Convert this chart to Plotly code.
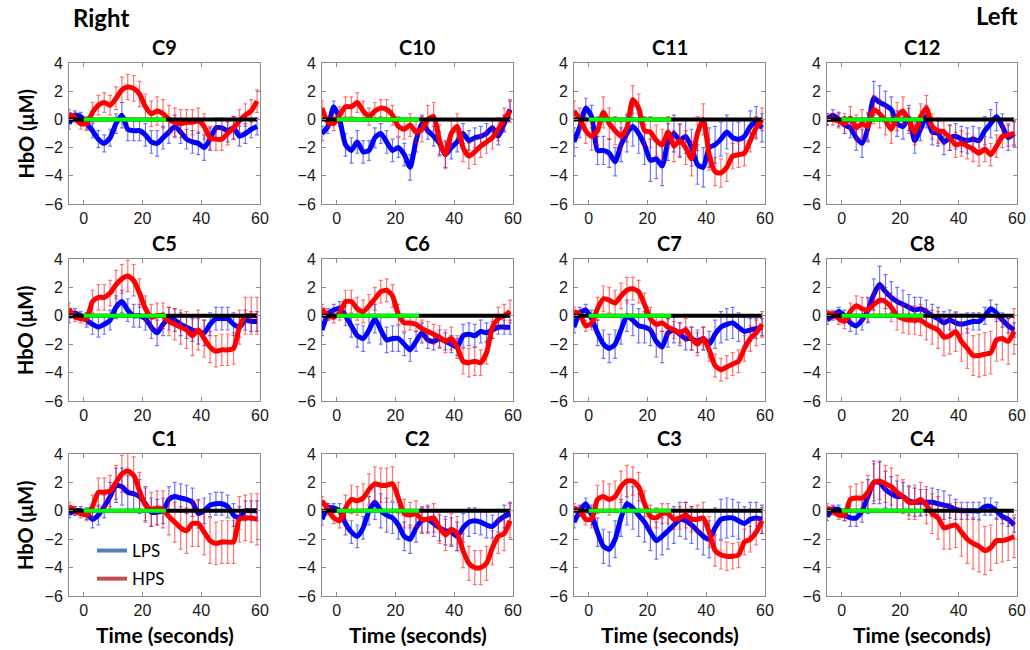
import plotly.graph_objects as go

# ---------------- data ----------------
TIME = [-5, -3, -1, 1, 3, 5, 7, 9, 11, 13, 15, 17, 19, 21, 23, 25, 27, 29, 31, 33,
        35, 37, 39, 41, 43, 45, 47, 49, 51, 53, 55, 57, 59]
STIM_START, STIM_END = 0, 28
BASE_START, BASE_END = -5, 59

CHANNELS = ["C9", "C10", "C11", "C12", "C5", "C6", "C7", "C8", "C1", "C2", "C3", "C4"]

LPS_C9 = [-0.3, 0.3, 0.2, -0.3, -0.8, -1.4, -1.7, -1.3, -0.3, 0.3, -0.7, -0.8, -0.8, -1.1, -1.6, -1.7, -1.3, -0.9, -0.5, -0.9, -1.4, -1.6, -1.7, -2.0, -1.4, -0.6, -0.6, -0.8, -0.6, -1.2, -1.0, -0.7, -0.5]
LPS_C9_ERR = [0.4, 0.3, 0.3, 0.4, 0.5, 0.6, 0.6, 0.6, 0.7, 0.9, 0.8, 0.7, 0.7, 0.8, 0.8, 0.9, 0.8, 0.8, 0.8, 0.8, 0.7, 0.8, 0.8, 0.9, 0.8, 0.7, 0.7, 0.8, 0.8, 0.7, 0.7, 0.6, 0.6]
HPS_C9 = [0.4, 0.1, -0.3, -0.3, 0.5, 1.0, 1.2, 1.0, 1.5, 2.1, 2.3, 2.2, 1.8, 0.9, 0.4, 0.6, 0.4, 0.0, -0.2, -0.3, -0.2, -0.2, -0.1, -0.5, -1.3, -1.4, -1.4, -1.0, -0.6, -0.1, 0.3, 0.6, 1.3]
HPS_C9_ERR = [0.3, 0.3, 0.4, 0.5, 0.7, 0.7, 0.7, 0.7, 0.8, 0.9, 0.9, 0.9, 0.9, 0.9, 0.9, 1.0, 1.0, 1.0, 1.0, 1.0, 0.9, 0.9, 0.9, 0.9, 0.8, 0.8, 0.8, 0.8, 0.8, 0.8, 0.8, 0.8, 0.8]

LPS_C10 = [-1.0, -0.5, 0.9, 0.0, -1.8, -2.2, -1.6, -2.3, -2.2, -1.3, -1.0, -1.6, -2.2, -2.0, -2.5, -3.4, -1.5, -0.3, -0.8, -1.2, -1.7, -2.5, -2.0, -1.6, -1.0, -1.5, -1.3, -1.2, -1.0, -0.6, -1.2, -0.3, 0.7]
LPS_C10_ERR = [0.5, 0.5, 0.4, 0.5, 0.8, 0.9, 0.8, 0.8, 0.7, 0.7, 0.7, 0.8, 0.8, 0.7, 0.8, 0.9, 0.8, 0.6, 0.6, 0.7, 0.8, 0.9, 0.8, 0.7, 0.7, 0.7, 0.7, 0.7, 0.7, 0.6, 0.6, 0.6, 0.6]
HPS_C10 = [0.8, -0.2, -0.3, 0.3, 0.9, 0.9, 1.2, 0.6, 0.2, 0.6, 0.8, 0.7, 0.3, -0.5, -0.7, -0.4, -0.9, -0.7, 0.0, 0.2, -1.5, -2.5, -1.0, -0.5, -2.0, -2.6, -2.3, -1.9, -1.6, -1.3, -0.7, 0.0, 0.6]
HPS_C10_ERR = [0.5, 0.4, 0.5, 0.6, 0.7, 0.7, 0.7, 0.7, 0.6, 0.6, 0.6, 0.7, 0.7, 0.7, 0.7, 0.8, 0.8, 0.9, 1.0, 1.0, 1.1, 1.0, 0.9, 0.9, 1.0, 0.9, 0.9, 0.8, 0.8, 0.8, 0.8, 0.8, 0.8]

LPS_C11 = [-1.6, -0.5, 0.8, 0.2, -2.2, -2.2, -2.4, -3.0, -1.8, -1.0, -0.5, -1.0, -1.8, -2.9, -2.8, -3.3, -1.6, -1.0, -1.5, -1.2, -2.0, -3.2, -3.4, -2.0, -1.8, -1.4, -0.9, -1.3, -1.4, -1.2, -0.5, -0.2, -0.6]
LPS_C11_ERR = [1.0, 0.8, 0.7, 0.8, 1.0, 1.0, 1.0, 1.0, 1.2, 1.3, 1.4, 1.4, 1.4, 1.5, 1.4, 1.4, 1.3, 1.3, 1.2, 1.2, 1.3, 1.4, 1.4, 1.4, 1.3, 1.2, 1.2, 1.2, 1.2, 1.2, 1.1, 1.1, 1.0]
HPS_C11 = [0.6, 0.0, -0.8, -1.2, -0.8, 0.5, -0.3, -0.8, -1.2, -0.6, 1.4, 0.8, -0.8, -0.9, -1.5, -1.8, -0.9, -1.9, -1.5, -2.0, -2.8, -1.0, 0.0, -2.5, -3.7, -3.8, -3.4, -2.6, -2.5, -2.4, -1.5, -0.6, 0.0]
HPS_C11_ERR = [0.7, 0.8, 0.9, 1.0, 1.0, 1.1, 1.1, 1.0, 1.0, 1.0, 1.0, 1.0, 1.0, 1.1, 1.1, 1.1, 1.1, 1.1, 1.1, 1.2, 1.2, 1.2, 1.1, 1.1, 1.0, 1.0, 1.0, 0.9, 0.9, 0.9, 0.8, 0.8, 0.8]

LPS_C12 = [0.0, 0.3, 0.0, -0.4, -0.6, -1.3, -1.7, -0.6, 1.5, 1.2, 1.0, 0.7, -0.3, -0.5, 0.1, -1.5, -0.7, 0.2, -0.9, -1.0, -1.6, -1.3, -1.2, -1.4, -1.5, -1.4, -1.5, -0.8, -0.3, 0.2, -0.5, -1.3, -1.0]
LPS_C12_ERR = [0.4, 0.4, 0.5, 0.6, 0.7, 0.9, 1.0, 1.0, 1.2, 1.2, 1.0, 0.9, 0.9, 0.9, 0.9, 0.9, 0.8, 0.8, 0.9, 0.9, 0.9, 0.9, 0.9, 0.9, 0.9, 0.9, 0.9, 1.0, 1.0, 1.0, 0.9, 0.9, 0.9]
HPS_C12 = [0.0, 0.0, -0.1, -0.3, 0.1, -0.6, -0.3, -0.5, 0.7, 0.4, -0.1, -0.7, 0.2, 0.6, -0.1, -0.9, 0.2, 0.8, -0.5, -0.8, -0.9, -1.3, -1.8, -1.7, -1.9, -2.1, -2.4, -2.1, -2.5, -1.9, -1.2, -1.1, -1.0]
HPS_C12_ERR = [0.4, 0.4, 0.5, 0.7, 0.8, 0.9, 1.0, 1.0, 1.0, 1.0, 1.0, 1.0, 1.0, 1.0, 0.9, 0.9, 0.9, 0.9, 0.9, 0.9, 0.9, 0.9, 0.9, 0.9, 0.9, 0.9, 0.9, 0.9, 0.8, 0.8, 0.8, 0.8, 0.8]

LPS_C5 = [-0.1, 0.2, 0.0, -0.3, -0.6, -0.8, -0.6, -0.3, 0.6, 1.0, 0.4, 0.0, 0.0, -0.2, -0.8, -1.2, -0.6, -0.2, -0.3, -0.6, -0.8, -1.0, -1.1, -1.2, -0.6, -0.2, -0.2, -0.2, -0.6, -0.8, -0.3, -0.4, -0.4]
LPS_C5_ERR = [0.4, 0.3, 0.3, 0.5, 0.7, 0.7, 0.7, 0.7, 0.8, 0.8, 0.8, 0.8, 0.8, 0.8, 0.8, 0.9, 0.8, 0.8, 0.8, 0.8, 0.8, 0.8, 0.9, 0.9, 0.8, 0.8, 0.8, 0.8, 0.8, 0.7, 0.7, 0.7, 0.7]
HPS_C5 = [0.5, -0.1, -0.2, -0.2, 1.0, 1.3, 1.3, 1.6, 2.2, 2.6, 2.8, 2.5, 1.6, 0.5, -0.1, 0.0, 0.0, -0.4, -0.6, -0.8, -1.0, -1.4, -1.0, -1.6, -2.2, -2.5, -2.4, -2.4, -2.3, -0.8, 0.0, 0.0, 0.0]
HPS_C5_ERR = [0.4, 0.3, 0.3, 0.4, 0.8, 0.9, 0.9, 0.9, 1.0, 1.0, 1.1, 1.1, 1.0, 0.9, 0.9, 0.9, 0.9, 1.0, 1.1, 1.2, 1.3, 1.4, 1.4, 1.3, 1.1, 1.1, 1.1, 1.1, 1.1, 1.2, 1.3, 1.3, 1.3]

LPS_C6 = [-1.0, 0.1, 0.4, 0.5, 0.0, -0.7, -1.4, -1.6, -1.0, -0.2, -1.0, -1.7, -1.6, -1.6, -2.0, -2.4, -1.8, -1.2, -1.7, -1.8, -1.6, -1.8, -2.0, -2.2, -1.4, -1.3, -1.4, -1.1, -1.2, -1.0, -0.8, -0.8, -0.8]
LPS_C6_ERR = [0.4, 0.4, 0.4, 0.5, 0.7, 0.8, 0.8, 0.9, 0.9, 1.0, 1.0, 0.9, 0.9, 0.9, 0.8, 0.8, 0.7, 0.7, 0.6, 0.6, 0.6, 0.6, 0.6, 0.6, 0.8, 0.8, 0.8, 0.8, 0.7, 0.6, 0.5, 0.5, 0.5]
HPS_C6 = [0.5, 0.0, -0.1, 0.2, 1.0, 1.0, 0.5, 0.3, 0.7, 1.2, 1.7, 1.8, 1.4, 0.1, -0.5, -0.5, -0.6, -0.9, -1.1, -1.3, -1.5, -1.8, -1.6, -2.2, -3.2, -3.3, -3.2, -3.3, -2.6, -0.8, -0.2, 0.0, 0.3]
HPS_C6_ERR = [0.3, 0.3, 0.4, 0.5, 0.8, 0.8, 0.8, 0.8, 0.8, 0.8, 0.8, 0.8, 0.8, 0.7, 0.6, 0.5, 0.5, 0.6, 0.7, 0.7, 0.8, 0.8, 0.8, 0.8, 0.9, 1.0, 1.0, 0.9, 0.8, 0.8, 0.8, 0.8, 0.8]

LPS_C7 = [-0.8, 0.2, 0.4, -0.2, -1.2, -2.0, -2.3, -2.0, -1.0, 0.0, -0.3, -0.7, -0.8, -1.0, -1.8, -2.2, -1.2, -1.0, -1.3, -1.6, -1.6, -1.8, -1.6, -2.0, -1.3, -0.8, -0.6, -0.5, -0.8, -1.1, -1.0, -0.9, -0.8]
LPS_C7_ERR = [0.4, 0.4, 0.4, 0.6, 0.9, 1.0, 1.0, 1.0, 1.0, 1.1, 1.1, 1.2, 1.1, 1.1, 1.1, 1.1, 1.0, 0.9, 0.8, 0.8, 0.8, 0.8, 0.8, 0.9, 1.0, 1.1, 1.1, 1.1, 1.0, 1.0, 0.8, 0.7, 0.6]
HPS_C7 = [0.3, 0.1, -0.7, -0.5, 0.5, 1.2, 1.1, 0.9, 1.4, 1.8, 1.9, 1.7, 0.8, -0.2, -0.6, -0.5, -0.8, -1.0, -1.2, -1.0, -1.6, -2.0, -1.6, -2.4, -3.5, -3.8, -3.6, -3.4, -3.2, -2.3, -1.6, -1.2, -0.6]
HPS_C7_ERR = [0.3, 0.3, 0.4, 0.5, 0.8, 0.9, 0.9, 0.9, 0.9, 0.9, 0.8, 0.8, 0.8, 0.8, 0.7, 0.6, 0.6, 0.6, 0.7, 0.8, 0.8, 0.8, 0.8, 0.8, 0.8, 0.8, 0.8, 0.8, 0.8, 0.9, 0.9, 0.9, 0.9]

LPS_C8 = [-0.3, 0.0, 0.3, 0.0, -0.5, -0.7, -0.3, 0.4, 1.5, 2.2, 1.7, 1.3, 1.0, 0.8, 0.6, 0.4, 0.5, 0.3, 0.0, -0.2, -0.5, -0.3, -0.5, -0.6, -0.5, -0.4, -0.4, 0.0, 0.5, 0.2, -0.3, -0.7, -1.0]
LPS_C8_ERR = [0.3, 0.3, 0.3, 0.4, 0.6, 0.6, 0.7, 0.9, 1.1, 1.3, 1.2, 1.1, 1.0, 1.0, 0.9, 0.9, 0.8, 0.8, 0.8, 0.8, 0.8, 0.7, 0.7, 0.7, 0.7, 0.6, 0.6, 0.6, 0.6, 0.6, 0.5, 0.5, 0.5]
HPS_C8 = [0.2, 0.1, -0.2, -0.4, 0.3, 0.7, 0.5, 0.4, 0.8, 1.1, 1.0, 0.6, 0.0, -0.2, -0.3, -0.3, -0.3, -0.6, -0.8, -1.0, -1.5, -1.4, -1.1, -1.8, -2.3, -2.8, -2.8, -2.7, -2.6, -1.7, -1.6, -1.8, -1.1]
HPS_C8_ERR = [0.2, 0.3, 0.4, 0.5, 0.6, 0.7, 0.8, 0.8, 0.9, 1.0, 1.0, 1.0, 1.0, 1.0, 1.0, 1.0, 1.1, 1.1, 1.2, 1.3, 1.3, 1.3, 1.4, 1.4, 1.4, 1.4, 1.5, 1.5, 1.5, 1.5, 1.5, 1.6, 1.6]

LPS_C1 = [-0.2, 0.0, 0.0, -0.2, -0.6, -0.3, 0.3, 1.0, 1.8, 1.7, 1.3, 1.2, 1.0, 0.5, -0.1, -0.1, 0.0, 0.8, 1.0, 0.9, 0.8, 0.6, -0.2, 0.0, 0.4, 0.5, 0.5, 0.3, -0.3, -0.5, 0.0, 0.0, 0.0]
LPS_C1_ERR = [0.3, 0.3, 0.3, 0.4, 0.6, 0.7, 0.8, 1.0, 1.2, 1.3, 1.2, 1.2, 1.2, 1.2, 1.0, 0.9, 0.9, 0.9, 1.0, 1.0, 1.0, 1.0, 1.0, 0.9, 0.8, 0.8, 0.8, 0.8, 0.8, 0.8, 0.7, 0.7, 0.7]
HPS_C1 = [0.3, 0.0, -0.2, -0.3, 0.3, 1.3, 1.3, 1.4, 2.0, 2.6, 2.8, 2.5, 1.4, 0.4, 0.1, 0.2, 0.1, -0.4, -0.8, -1.2, -1.4, -0.9, -0.9, -1.5, -2.1, -2.3, -2.2, -2.2, -2.2, -0.6, -0.5, -0.5, -0.6]
HPS_C1_ERR = [0.3, 0.3, 0.3, 0.4, 0.8, 1.0, 1.0, 1.1, 1.2, 1.3, 1.3, 1.3, 1.3, 1.2, 1.2, 1.2, 1.3, 1.3, 1.4, 1.5, 1.6, 1.6, 1.6, 1.6, 1.6, 1.5, 1.5, 1.5, 1.5, 1.6, 1.6, 1.7, 1.8]

LPS_C2 = [-0.6, 0.2, 0.2, 0.0, -0.9, -1.5, -1.8, -1.2, 0.0, 0.6, 0.0, -0.3, -0.5, -1.0, -1.8, -2.0, -1.2, -0.7, -0.6, -0.9, -1.2, -1.4, -1.5, -1.8, -1.2, -0.8, -0.7, -0.8, -1.0, -1.1, -0.7, -0.4, -0.2]
LPS_C2_ERR = [0.4, 0.3, 0.3, 0.5, 0.8, 0.8, 0.8, 0.8, 1.0, 1.2, 1.2, 1.2, 1.1, 1.0, 1.0, 1.0, 1.0, 0.9, 0.9, 0.9, 0.9, 1.0, 1.0, 1.0, 1.0, 1.0, 0.9, 0.9, 0.9, 0.8, 0.8, 0.8, 0.8]
HPS_C2 = [0.7, 0.1, -0.5, -0.7, 0.2, 0.8, 0.7, 0.9, 1.5, 1.9, 1.8, 1.8, 1.9, 0.9, -0.2, -0.3, -0.2, -0.6, -0.6, -0.5, -1.2, -1.7, -1.3, -1.6, -2.8, -3.7, -4.0, -4.0, -3.7, -2.6, -1.8, -1.6, -0.7]
HPS_C2_ERR = [0.3, 0.4, 0.4, 0.5, 0.9, 1.0, 1.0, 1.0, 1.1, 1.2, 1.2, 1.2, 1.2, 1.1, 1.0, 0.9, 0.9, 0.9, 1.0, 1.0, 1.1, 1.1, 1.1, 1.2, 1.2, 1.2, 1.2, 1.2, 1.2, 1.2, 1.2, 1.2, 1.2]

LPS_C3 = [-0.8, 0.0, 0.5, -0.3, -1.5, -2.5, -2.7, -2.0, -0.5, 0.5, 0.2, -0.3, -0.8, -1.5, -2.1, -1.8, -1.4, -1.0, -0.6, -0.7, -1.0, -1.4, -1.8, -2.0, -1.2, -0.6, -0.5, -0.5, -0.7, -0.9, -0.6, -0.5, -0.6]
LPS_C3_ERR = [0.4, 0.4, 0.4, 0.7, 1.0, 1.2, 1.2, 1.3, 1.3, 1.5, 1.5, 1.5, 1.4, 1.3, 1.3, 1.3, 1.3, 1.3, 1.2, 1.3, 1.3, 1.3, 1.3, 1.3, 1.4, 1.4, 1.4, 1.3, 1.3, 1.2, 1.2, 1.1, 1.0]
HPS_C3 = [0.2, 0.0, -0.6, -0.6, 0.8, 1.0, 0.8, 1.0, 1.7, 2.1, 2.1, 1.7, 0.5, -0.4, -0.5, -0.2, -0.2, -0.6, -0.5, -0.3, -0.6, -0.6, -0.5, -1.5, -2.8, -3.1, -3.2, -3.2, -3.1, -2.2, -2.0, -1.5, -0.7]
HPS_C3_ERR = [0.3, 0.3, 0.4, 0.6, 1.0, 1.1, 1.1, 1.1, 1.1, 1.1, 1.0, 1.0, 0.9, 0.8, 0.7, 0.7, 0.7, 0.7, 0.8, 0.9, 0.9, 1.0, 1.1, 1.1, 1.1, 1.0, 1.0, 0.9, 0.9, 0.9, 0.9, 0.9, 0.9]

LPS_C4 = [-0.4, 0.1, 0.1, -0.3, -0.5, -0.5, 0.0, 1.0, 2.0, 2.0, 1.5, 1.2, 1.0, 1.0, 0.7, 0.6, 0.6, 0.6, 0.6, 0.5, 0.4, 0.3, 0.1, 0.0, 0.0, 0.0, 0.0, 0.3, 0.3, 0.0, -0.4, -0.6, -1.0]
LPS_C4_ERR = [0.3, 0.3, 0.3, 0.4, 0.6, 0.6, 0.8, 1.2, 1.5, 1.5, 1.3, 1.2, 1.1, 1.0, 1.0, 1.0, 0.9, 0.9, 1.0, 1.0, 1.0, 0.8, 0.7, 0.6, 0.6, 0.6, 0.6, 0.6, 0.6, 0.6, 0.5, 0.5, 0.5]
HPS_C4 = [0.2, 0.0, -0.3, -0.3, 0.8, 0.9, 0.9, 1.3, 2.0, 2.1, 1.9, 1.7, 1.3, 1.0, 0.6, 0.6, 0.8, 0.4, -0.2, -0.5, -1.2, -1.1, -1.0, -1.5, -2.0, -2.3, -2.5, -2.8, -2.6, -2.1, -2.1, -2.0, -1.8]
HPS_C4_ERR = [0.3, 0.3, 0.3, 0.4, 0.9, 1.0, 1.1, 1.2, 1.3, 1.3, 1.3, 1.3, 1.2, 1.2, 1.2, 1.2, 1.2, 1.3, 1.4, 1.5, 1.5, 1.6, 1.6, 1.7, 1.7, 1.8, 1.8, 1.7, 1.6, 1.6, 1.5, 1.5, 1.5]

X_TICKS = [0, 20, 40, 60]
Y_TICKS = [-6, -4, -2, 0, 2, 4]

SERIES = {
    "C9": (LPS_C9, LPS_C9_ERR, HPS_C9, HPS_C9_ERR),
    "C10": (LPS_C10, LPS_C10_ERR, HPS_C10, HPS_C10_ERR),
    "C11": (LPS_C11, LPS_C11_ERR, HPS_C11, HPS_C11_ERR),
    "C12": (LPS_C12, LPS_C12_ERR, HPS_C12, HPS_C12_ERR),
    "C5": (LPS_C5, LPS_C5_ERR, HPS_C5, HPS_C5_ERR),
    "C6": (LPS_C6, LPS_C6_ERR, HPS_C6, HPS_C6_ERR),
    "C7": (LPS_C7, LPS_C7_ERR, HPS_C7, HPS_C7_ERR),
    "C8": (LPS_C8, LPS_C8_ERR, HPS_C8, HPS_C8_ERR),
    "C1": (LPS_C1, LPS_C1_ERR, HPS_C1, HPS_C1_ERR),
    "C2": (LPS_C2, LPS_C2_ERR, HPS_C2, HPS_C2_ERR),
    "C3": (LPS_C3, LPS_C3_ERR, HPS_C3, HPS_C3_ERR),
    "C4": (LPS_C4, LPS_C4_ERR, HPS_C4, HPS_C4_ERR),
}

# ---------------- layout geometry (pixels) ----------------
W, H = 1030, 650
COL_L = [69, 322, 574, 827]
COL_R = [260, 513, 765, 1017]
ROW_T = [63, 259, 454]
ROW_B = [204, 401, 596]

TITLE_FONT = "Lato"
TICK_FONT = "Liberation Sans"
BLUE = "#0000FF"
RED = "#FF0000"

fig = go.Figure()
layout = dict(
    width=W, height=H,
    margin=dict(l=0, r=0, t=0, b=0, pad=0, autoexpand=False),
    paper_bgcolor="white", plot_bgcolor="white",
    showlegend=True,
)
annotations = []

for i, ch in enumerate(CHANNELS):
    r, c = divmod(i, 4)
    k = i + 1
    xa = "x" if k == 1 else f"x{k}"
    ya = "y" if k == 1 else f"y{k}"
    lps, lps_err, hps, hps_err = SERIES[ch]

    fig.add_trace(go.Scatter(
        x=TIME, y=lps, xaxis=xa, yaxis=ya, mode="lines",
        line=dict(color=BLUE, width=5, shape="spline", smoothing=0.6),
        error_y=dict(type="data", array=lps_err, visible=True,
                     color="rgba(0,0,255,0.55)", thickness=1.2, width=2),
        showlegend=False, hoverinfo="skip"))
    fig.add_trace(go.Scatter(
        x=TIME, y=hps, xaxis=xa, yaxis=ya, mode="lines",
        line=dict(color=RED, width=5, shape="spline", smoothing=0.6),
        error_y=dict(type="data", array=hps_err, visible=True,
                     color="rgba(255,0,0,0.55)", thickness=1.2, width=2),
        showlegend=False, hoverinfo="skip"))
    # baseline (black) and stimulus period (green)
    fig.add_trace(go.Scatter(
        x=[BASE_START, BASE_END], y=[0, 0], xaxis=xa, yaxis=ya, mode="lines",
        line=dict(color="black", width=4), showlegend=False, hoverinfo="skip"))
    fig.add_trace(go.Scatter(
        x=[STIM_START, STIM_END], y=[0, 0], xaxis=xa, yaxis=ya, mode="lines",
        line=dict(color="#00FF00", width=4), showlegend=False, hoverinfo="skip"))

    xkey = "xaxis" if k == 1 else f"xaxis{k}"
    ykey = "yaxis" if k == 1 else f"yaxis{k}"
    axcommon = dict(showline=True, linecolor="#8c8c8c", linewidth=1, mirror="ticks",
                    ticks="inside", ticklen=4, tickcolor="#8c8c8c",
                    showgrid=False, zeroline=False, automargin=False,
                    tickfont=dict(family=TICK_FONT, size=16, color="#1a1a1a"))
    layout[xkey] = dict(axcommon, domain=[COL_L[c] / W, COL_R[c] / W], range=[-5, 60],
                        tickvals=X_TICKS, anchor=ya)
    layout[ykey] = dict(axcommon, domain=[1 - ROW_B[r] / H, 1 - ROW_T[r] / H], range=[-6, 4],
                        tickvals=Y_TICKS, anchor=xa, ticklabelstandoff=2)

    # panel title
    annotations.append(dict(
        text=f"<b>{ch}</b>", xref="paper", yref="paper",
        x=(COL_L[c] + COL_R[c]) / 2 / W, y=1 - (ROW_T[r] - 16) / H,
        showarrow=False, font=dict(family=TITLE_FONT, size=20, color="black"),
        xanchor="center", yanchor="middle"))
    if c == 0:
        annotations.append(dict(
            text="<b>HbO (μM)</b>", xref="paper", yref="paper",
            x=25 / W, y=1 - (ROW_T[r] + ROW_B[r]) / 2 / H, textangle=-90,
            showarrow=False, font=dict(family=TITLE_FONT, size=20, color="black"),
            xanchor="center", yanchor="middle"))
    if r == 2:
        annotations.append(dict(
            text="<b>Time (seconds)</b>", xref="paper", yref="paper",
            x=(COL_L[c] + COL_R[c]) / 2 / W, y=1 - 634 / H,
            showarrow=False, font=dict(family=TITLE_FONT, size=21, color="black"),
            xanchor="center", yanchor="middle"))

annotations.append(dict(text="<b>Right</b>", xref="paper", yref="paper",
                        x=71 / W, y=1 - 18 / H, showarrow=False, xanchor="left", yanchor="middle",
                        font=dict(family=TITLE_FONT, size=24, color="black")))
annotations.append(dict(text="<b>Left</b>", xref="paper", yref="paper",
                        x=1019 / W, y=1 - 15 / H, showarrow=False, xanchor="right", yanchor="middle",
                        font=dict(family=TITLE_FONT, size=24, color="black")))

# legend entries
fig.add_trace(go.Scatter(x=[None], y=[None], mode="lines", name="LPS",
                         line=dict(color="#4F81BD", width=4), legendgroup="a"))
fig.add_trace(go.Scatter(x=[None], y=[None], mode="lines", name="HPS",
                         line=dict(color="#C0504D", width=4), legendgroup="b"))

layout["annotations"] = annotations
layout["legend"] = dict(x=92 / W, y=1 - 533 / H, xanchor="left", yanchor="top",
                        bgcolor="rgba(0,0,0,0)", font=dict(family=TITLE_FONT, size=17, color="black"),
                        tracegroupgap=3, itemwidth=30)
fig.update_layout(**layout)

fig.write_html("out.html")
